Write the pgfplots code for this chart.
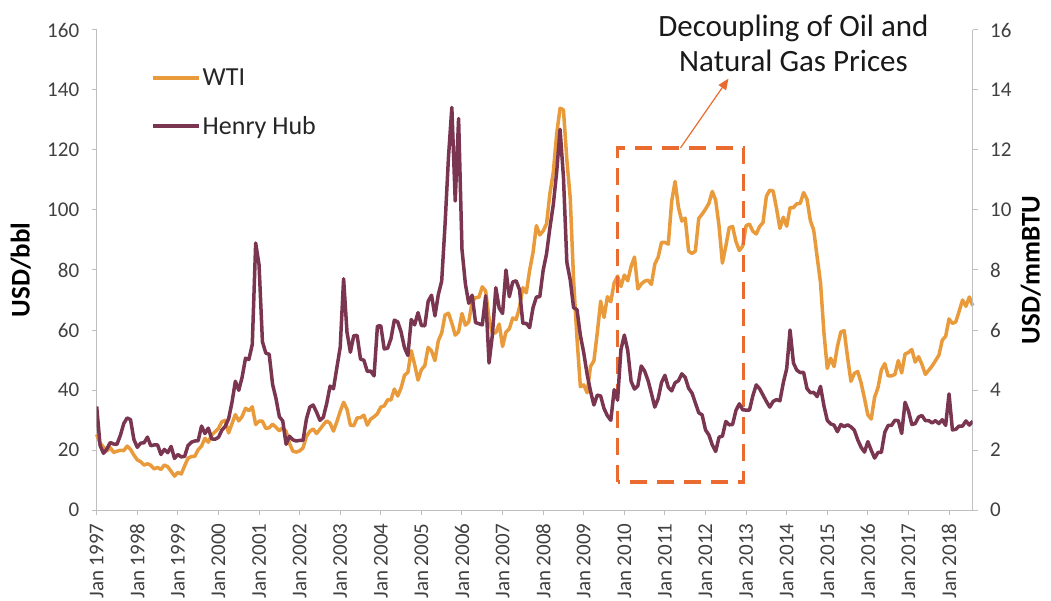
\documentclass[border=0pt]{standalone}
\usepackage{fontspec}
\setmainfont{Carlito}
\usepackage{pgfplots}
\usepackage{pgfplotstable}
\pgfplotsset{compat=1.18}
\usetikzlibrary{arrows.meta}
\definecolor{wticol}{HTML}{E99A3A}
\definecolor{hhcol}{HTML}{7A3550}
\definecolor{boxcol}{HTML}{EA6B2F}
\definecolor{axgray}{HTML}{BFBFBF}
\definecolor{txtgray}{HTML}{404040}

% monthly data, Jan 1997 - Aug 2018 (index 0 = Jan 1997)
\pgfplotstableread{
wti hh
25.2 3.45
22.2 2.15
21.0 1.89
19.7 2.03
20.8 2.25
19.2 2.20
19.6 2.19
19.9 2.49
19.8 2.88
21.3 3.07
20.2 3.01
18.3 2.35
16.7 2.09
16.1 2.23
15.0 2.24
15.4 2.43
14.9 2.14
13.7 2.17
14.2 2.17
13.5 1.85
15.0 2.02
14.4 1.91
12.9 2.12
11.3 1.72
12.5 1.85
12.0 1.77
14.7 1.79
17.3 2.15
17.8 2.26
17.9 2.30
20.1 2.31
21.3 2.80
23.9 2.55
22.6 2.73
25.0 2.37
26.1 2.36
27.2 2.42
29.4 2.66
29.9 2.79
25.7 3.04
28.8 3.59
31.8 4.29
29.7 3.99
31.2 4.43
33.9 5.06
33.1 5.02
34.4 5.52
28.5 8.90
29.6 8.17
29.6 5.61
27.2 5.23
27.4 5.19
28.6 4.19
27.6 3.72
26.4 3.11
27.4 2.97
26.2 2.19
22.2 2.46
19.6 2.34
19.3 2.30
19.7 2.32
20.7 2.32
24.5 3.03
26.2 3.43
27.0 3.50
25.5 3.26
26.9 2.99
28.4 3.09
29.7 3.55
28.9 4.13
26.3 4.04
29.4 4.74
32.9 5.43
35.9 7.71
33.6 5.93
28.3 5.26
28.1 5.81
30.7 5.82
30.8 5.03
31.6 4.99
28.3 4.62
30.3 4.63
31.1 4.47
32.1 6.13
34.3 6.14
34.7 5.37
36.7 5.39
36.7 5.71
40.3 6.33
38.0 6.27
40.7 5.93
44.9 5.41
45.9 5.15
53.1 6.35
48.5 6.17
43.3 6.58
46.8 6.15
48.1 6.14
54.2 6.96
53.0 7.16
49.8 6.47
56.4 7.18
59.0 7.63
65.0 9.53
65.6 11.75
62.3 13.42
58.3 10.30
59.4 13.05
65.5 8.69
61.6 7.54
62.7 6.89
69.4 7.16
70.8 6.25
70.9 6.21
74.4 6.17
73.0 7.14
63.8 4.90
58.9 5.85
59.1 7.41
62.0 6.73
54.5 6.55
59.3 8.00
60.4 7.11
64.0 7.60
63.5 7.64
67.5 7.35
74.1 6.22
72.4 6.22
79.9 6.08
85.8 6.74
94.8 7.10
91.7 7.11
93.0 7.99
95.4 8.54
105.5 9.41
112.6 10.18
125.4 11.27
133.9 12.69
133.4 11.09
116.7 8.26
104.1 7.67
76.6 6.74
57.3 6.68
41.1 5.82
41.7 5.24
39.1 4.52
47.9 3.96
49.7 3.50
59.0 3.83
69.6 3.80
64.2 3.38
71.1 3.14
69.4 2.99
75.7 4.01
78.0 3.66
74.5 5.35
78.3 5.83
76.4 5.32
81.2 4.29
84.3 4.03
73.7 4.14
75.3 4.80
76.3 4.63
76.6 4.32
75.2 3.89
81.9 3.43
84.3 3.71
89.2 4.25
89.2 4.49
88.6 4.09
102.9 3.97
109.5 4.24
100.9 4.31
96.3 4.54
97.3 4.42
86.3 4.06
85.5 3.90
86.3 3.57
97.2 3.24
98.6 3.17
100.3 2.67
102.2 2.50
106.2 2.17
103.3 1.95
94.7 2.43
82.3 2.46
87.9 2.95
94.1 2.84
94.5 2.85
89.5 3.32
86.5 3.54
87.9 3.34
94.8 3.33
95.3 3.33
92.9 3.81
92.0 4.17
94.5 4.04
95.8 3.83
104.6 3.62
106.6 3.43
106.3 3.62
100.5 3.68
93.9 3.64
97.6 4.24
94.6 4.71
100.8 6.00
100.8 4.90
102.1 4.66
102.2 4.58
105.8 4.59
103.6 4.05
96.5 3.91
93.2 3.92
84.4 3.78
75.8 4.12
59.3 3.48
47.2 2.99
50.6 2.87
47.8 2.83
54.5 2.61
59.3 2.85
59.8 2.78
50.9 2.84
42.9 2.77
45.5 2.66
46.2 2.34
42.4 2.09
37.2 1.93
31.7 2.28
30.3 1.99
37.6 1.73
40.8 1.92
46.7 1.92
48.8 2.59
44.7 2.82
44.7 2.82
45.2 2.99
49.8 2.98
45.7 2.55
52.0 3.59
52.5 3.30
53.5 2.85
49.3 2.88
51.1 3.10
48.5 3.15
45.2 2.98
46.6 2.98
48.0 2.90
49.8 2.98
51.6 2.88
56.6 3.01
57.9 2.82
63.7 3.87
62.2 2.67
62.7 2.69
66.3 2.80
70.0 2.80
67.9 2.97
71.0 2.83
68.1 2.96
}\prices

\pgfplotsset{
  common/.style={
    at={(96.7pt,90pt)}, anchor=south west, scale only axis,
    width=876pt, height=480pt, xmin=0, xmax=259,
    axis line style={axgray, line width=1pt, -},
    tick align=outside, major tick length=5pt,
    tick style={axgray, line width=1pt},
    /pgf/number format/assume math mode=true,
    tick label style={font=\fontsize{21}{24}\selectfont, text=txtgray},
    yticklabel shift=9pt,
  }
}

\begin{document}
\begin{tikzpicture}
\clip (0,0) rectangle (1051pt,600pt);
\begin{axis}[
  common, clip=false,
  ymin=0, ymax=160,
  axis x line*=bottom, axis y line*=left,
  xtick={0,12,...,252},
  xticklabels={Jan 1997,Jan 1998,Jan 1999,Jan 2000,Jan 2001,Jan 2002,Jan 2003,Jan 2004,Jan 2005,Jan 2006,Jan 2007,Jan 2008,Jan 2009,Jan 2010,Jan 2011,Jan 2012,Jan 2013,Jan 2014,Jan 2015,Jan 2016,Jan 2017,Jan 2018},
  x tick label style={rotate=90, anchor=east},
  xticklabel shift=5pt,
  ytick={0,20,...,160},
  ylabel={USD/bbl},
  ylabel style={font=\bfseries\fontsize{27}{30}\selectfont, text=black,
    at={(axis description cs:-0.0868,0.5)}, anchor=center},
  legend style={at={(axis description cs:0.062,0.923)}, anchor=north west,
    draw=none, fill=none, font=\fontsize{26}{30}\selectfont, text=black!85,
    row sep=25pt, inner sep=0pt},
  legend cell align=left,
  legend image code/.code={\draw[#1] (0pt,0pt) -- (46pt,0pt);},
]
\addplot[wticol, line width=3.5pt, line join=round] table[x expr=\coordindex, y=wti] {\prices};
\addlegendentry{WTI}
\addlegendimage{hhcol, line width=3.5pt}
\addlegendentry{Henry Hub}
\draw[boxcol, line width=3.5pt, dash pattern=on 17pt off 10pt]
  (axis cs:154,9.4) rectangle (axis cs:191.3,120.7);
\draw[boxcol, line width=1.2pt, -{Triangle[length=11pt,width=9pt]}]
  (axis cs:172.6,120.7) -- (axis cs:186.8,143.8);
\node[align=center, font=\fontsize{31}{35}\selectfont, text=black!90]
  at (axis cs:206,155.4) {Decoupling of Oil and\\Natural Gas Prices};
\end{axis}
\begin{axis}[
  common,
  ymin=0, ymax=16,
  axis y line*=right, axis x line=none,
  ytick={0,2,...,16},
  ylabel={USD/mmBTU},
  ylabel style={font=\bfseries\fontsize{27}{30}\selectfont, text=black,
    at={(axis description cs:1.0662,0.5)}, anchor=center, rotate=0},
]
\addplot[hhcol, line width=3.5pt, line join=round] table[x expr=\coordindex, y=hh] {\prices};
\end{axis}
\end{tikzpicture}
\end{document}
